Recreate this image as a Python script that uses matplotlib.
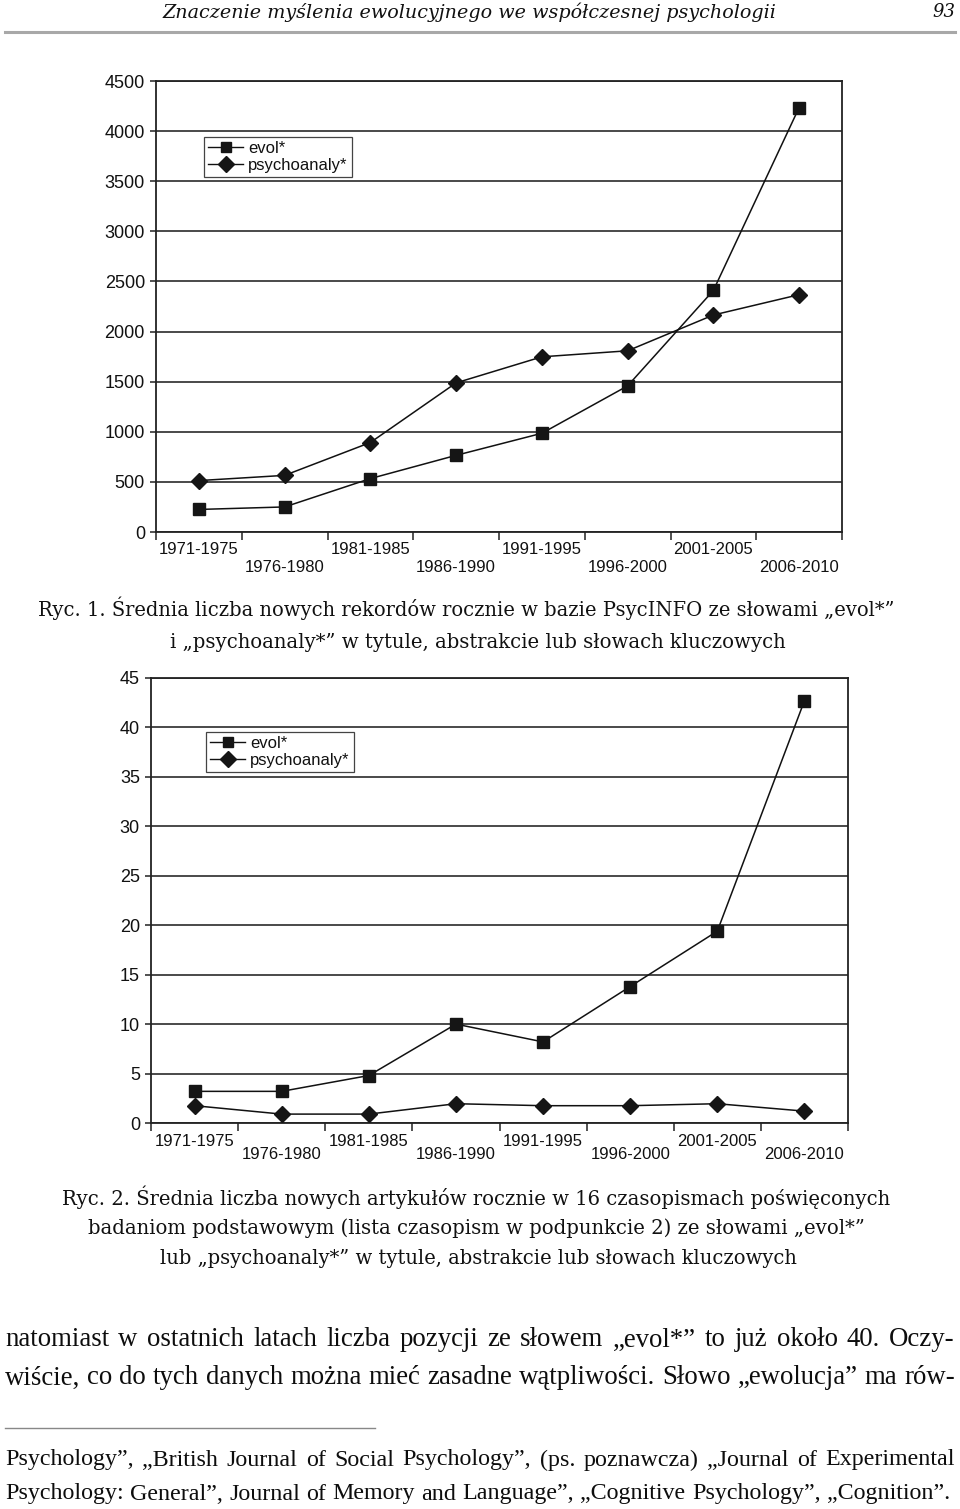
import matplotlib
matplotlib.use('Agg')
import matplotlib.pyplot as plt
from matplotlib.lines import Line2D

W, H, DPI = 960, 1509, 100

# ---------------- data ----------------
periods = ['1971-1975', '1976-1980', '1981-1985', '1986-1990',
           '1991-1995', '1996-2000', '2001-2005', '2006-2010']
evol_1 = [225, 250, 533, 765, 985, 1458, 2410, 4235]
psycho_1 = [513, 565, 893, 1488, 1748, 1808, 2165, 2368]
evol_2 = [3.2, 3.2, 4.8, 10.0, 8.2, 13.8, 19.4, 42.7]
psycho_2 = [1.75, 0.9, 0.9, 1.95, 1.75, 1.75, 1.95, 1.2]
yticks_1 = [0, 500, 1000, 1500, 2000, 2500, 3000, 3500, 4000, 4500]
yticks_2 = [0, 5, 10, 15, 20, 25, 30, 35, 40, 45]
series_labels = ['evol*', 'psychoanaly*']

header = 'Znaczenie myślenia ewolucyjnego we współczesnej psychologii'
page_no = '93'
caption1 = ['Ryc. 1. Średnia liczba nowych rekordów rocznie w bazie PsycINFO ze słowami „evol*”',
            'i „psychoanaly*” w tytule, abstrakcie lub słowach kluczowych']
caption2 = ['Ryc. 2. Średnia liczba nowych artykułów rocznie w 16 czasopismach poświęconych',
            'badaniom podstawowym (lista czasopism w podpunkcie 2) ze słowami „evol*”',
            'lub „psychoanaly*” w tytule, abstrakcie lub słowach kluczowych']
body = ['natomiast w ostatnich latach liczba pozycji ze słowem „evol*” to już około 40. Oczy-',
        'wiście, co do tych danych można mieć zasadne wątpliwości. Słowo „ewolucja” ma rów-']
footnote = ['Psychology”, „British Journal of Social Psychology”, (ps. poznawcza) „Journal of Experimental',
            'Psychology: General”, Journal of Memory and Language”, „Cognitive Psychology”, „Cognition”.']

plt.rcParams['font.family'] = ['Liberation Sans', 'DejaVu Sans']

fig = plt.figure(figsize=(W / DPI, H / DPI), dpi=DPI)
fig.patch.set_facecolor('white')


def px_axes(l, t, r, b):
    return fig.add_axes([l / W, 1 - b / H, (r - l) / W, (b - t) / H])


def make_chart(ax, evol, psycho, yticks, stagger, xpad, legend_xy):
    x = [i + 0.5 for i in range(len(periods))]
    ax.plot(x, psycho, color='#111111', lw=1.1, marker='D', ms=8.6,
            mfc='#151515', mec='#151515', zorder=4)
    ax.plot(x, evol, color='#111111', lw=1.1, marker='s', ms=9.2,
            mfc='#151515', mec='#151515', zorder=4)
    ax.set_xlim(0, len(periods))
    ax.set_ylim(yticks[0], yticks[-1])
    ax.set_yticks(yticks)
    ax.set_yticklabels([str(v) for v in yticks])
    ax.yaxis.grid(True, color='#2a2a2a', lw=1.2)
    ax.set_axisbelow(True)
    ax.set_xticks(x)
    ax.set_xticklabels(periods)
    ax.set_xticks(range(len(periods) + 1), minor=True)
    ax.tick_params(axis='x', which='major', length=0, pad=xpad, labelsize=12,
                   labelcolor='#111111')
    ax.tick_params(axis='x', which='minor', length=6, width=1.1, color='#222222',
                   direction='out')
    ax.tick_params(axis='y', length=4, width=1.1, color='#222222', pad=4,
                   labelsize=13, labelcolor='#111111')
    for s in ax.spines.values():
        s.set_color('#222222')
        s.set_linewidth(1.3)
    for i, lab in enumerate(ax.get_xticklabels()):
        if i % 2 == 1:
            lab.set_y(-stagger)
    handles = [Line2D([], [], color='#111111', lw=1.0, marker='s', ms=7.5,
                      mfc='#151515', mec='#151515'),
               Line2D([], [], color='#111111', lw=1.0, marker='D', ms=8.0,
                      mfc='#151515', mec='#151515')]
    leg = ax.legend(handles, series_labels, loc='upper left',
                    bbox_to_anchor=(legend_xy[0] / W, 1 - legend_xy[1] / H),
                    bbox_transform=fig.transFigure, frameon=True, fancybox=False,
                    edgecolor='#444444', framealpha=1, borderpad=0.25,
                    handlelength=2.1, handletextpad=0.3, labelspacing=0.1,
                    borderaxespad=0, fontsize=12)
    leg.get_frame().set_linewidth(0.9)
    for t in leg.get_texts():
        t.set_color('#111111')


ax1 = px_axes(156, 81, 842, 532)
make_chart(ax1, evol_1, psycho_1, yticks_1, 0.040, 7, (204, 137))
ax2 = px_axes(151, 678, 848, 1123)
make_chart(ax2, evol_2, psycho_2, yticks_2, 0.029, 8, (206, 732))

# ---------------- page text ----------------
fig.canvas.draw()
renderer = fig.canvas.get_renderer()
SERIF = 'DejaVu Serif'
BODY = 'Liberation Serif'


def text_width(txt, size, family=SERIF, style='normal'):
    t = fig.text(0, 0, txt, family=family, style=style, fontsize=size)
    w = t.get_window_extent(renderer).width
    t.remove()
    return w


def fit_line(text, x0, x1, yc, family=SERIF, style='normal', size=14):
    t = fig.text(x0 / W, 1 - yc / H, text, ha='left', va='center',
                 family=family, style=style, fontsize=size, color='#111111')
    w = t.get_window_extent(renderer).width
    t.set_fontsize(size * (x1 - x0) / w)
    return t


def justify_block(lines, spans, family, size=14):
    sz = min(size * (x1 - x0) / text_width(txt, size, family)
             for txt, (x0, x1, _) in zip(lines, spans))
    for txt, (x0, x1, yc) in zip(lines, spans):
        words = txt.split(' ')
        widths = [text_width(wd, sz, family) for wd in words]
        gap = (x1 - x0 - sum(widths)) / (len(words) - 1)
        x = x0
        for wd, w in zip(words, widths):
            fig.text(x / W, 1 - yc / H, wd, ha='left', va='center', family=family,
                     fontsize=sz, color='#0d0d0d')
            x += w + gap


fit_line(header, 162, 777, 12, style='italic')
fit_line(page_no, 932, 955, 12, style='italic')
fig.add_artist(Line2D([5 / W, 955 / W], [1 - 32 / H] * 2, color='#a8a8a8', lw=2.2))

for txt, (x0, x1, yc) in zip(caption1, [(38, 898, 608), (170, 790, 643)]):
    fit_line(txt, x0, x1, yc)
for txt, (x0, x1, yc) in zip(caption2, [(62, 895, 1197), (88, 866, 1228), (160, 800, 1259)]):
    fit_line(txt, x0, x1, yc)
justify_block(body, [(5, 955, 1340), (5, 955, 1378)], BODY)
fig.add_artist(Line2D([5 / W, 375 / W], [1 - 1428 / H] * 2, color='#888888', lw=1.0))
justify_block(footnote, [(5, 955, 1460), (5, 950, 1494)], BODY)

fig.savefig('out.png', dpi=DPI)
